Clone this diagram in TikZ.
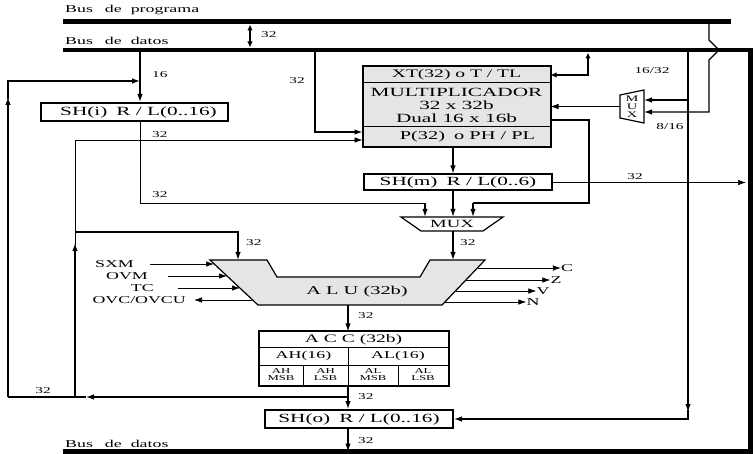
\documentclass[tikz,border=0pt]{standalone}
\usepackage{fontspec}
\setmainfont{Liberation Serif}[FakeStretch=1.7]
\usetikzlibrary{arrows.meta}
\begin{document}
\begin{tikzpicture}[x=1pt,y=-1pt,
  ln/.style={line width=1.2pt},
  tn/.style={line width=0.7pt},
  arr/.style={-{Latex[length=8pt,width=5.5pt]}},
  dbl/.style={{Latex[length=6pt,width=5.5pt]}-{Latex[length=6pt,width=5.5pt]}},
  bus/.style={line width=4.6pt},
  cell/.style={draw, line width=1pt, inner sep=0pt, fill=gray!20},
  box/.style={draw, line width=2pt, inner sep=0pt, fill=white, font=\fontsize{12.5}{12.5}\selectfont},
  lab/.style={font=\fontsize{9}{9}\selectfont, inner sep=0pt},
  sig/.style={font=\fontsize{10.5}{11}\selectfont, inner sep=0pt},
  blab/.style={font=\fontsize{10.5}{10.5}\selectfont, inner sep=0pt, anchor=west},
]
\useasboundingbox (0,0) rectangle (755,454);

% ---------- buses ----------
\coordinate (pbL) at (63,21.5);
\coordinate (pbR) at (731,21.5);
\coordinate (dbL) at (63,50);
\coordinate (dbR) at (750.5,50);
\coordinate (bbR) at (750.5,451.5);
\coordinate (bbL) at (63,451.5);
\draw[bus] (pbL) -- (pbR);
\draw[bus, line join=miter] (dbL) -- (dbR) -- (bbR) -- (bbL);
\node[blab] (lprog) at (65,10) {Bus\hspace{12pt}de\hspace{9pt}programa};
\node[blab] (ldat1) at (65,41) {Bus\hspace{12pt}de\hspace{9pt}datos};
\node[blab] (ldat2) at (65,444) {Bus\hspace{12pt}de\hspace{9pt}datos};
\draw[ln,dbl] (250,24.5) -- (250,47.5);
\node[lab,anchor=west] (l32a) at (261,35) {32};

% ---------- boxes ----------
\node[box, minimum width=187pt, minimum height=18pt] (SHi) at (134.5,112) {\hspace*{8pt}SH(i)\hspace{9pt}R / L(0..16)};

\node[cell, minimum width=187pt, minimum height=16pt, font=\fontsize{11.5}{12}\selectfont] (XT) at (456.5,75) {XT(32) o T / TL};
\node[cell, minimum width=187pt, minimum height=44pt, align=center, font=\fontsize{12.5}{12.5}\selectfont] (MUL) at (456.5,105) {MULTIPLICADOR\\[1pt]32 x 32b\\Dual 16 x 16b};
\node[cell, minimum width=187pt, minimum height=20pt, font=\fontsize{12}{12}\selectfont] (P) at (456.5,137) {\hspace*{22pt}P(32)\hspace{9pt}o PH / PL};
\draw[line width=2pt] (XT.north west) rectangle (P.south east);

\node[box, minimum width=188pt, minimum height=16pt] (SHm) at (458,182.5) {SH(m)\hspace{9pt}R / L(0..6)};
\node[box, minimum width=188pt, minimum height=18pt] (SHo) at (359,419) {SH(o)\hspace{9pt}R / L(0..16)};

% MUX (bottom)
\draw[ln, fill=white] (401,217) -- (503,217) -- (483,231) -- (421,231) -- cycle;
\node[inner sep=0pt, minimum width=100pt, minimum height=14pt, font=\fontsize{11}{11}\selectfont] (mux) at (452,224) {MUX};

% MUX (right, vertical)
\draw[ln, fill=white] (620,95) -- (644,90) -- (644,123) -- (620,118) -- cycle;
\node[inner sep=0pt, minimum width=24pt, minimum height=28pt, align=center, font=\fontsize{8.5}{8}\selectfont] (muxr) at (632,106.5) {M\\U\\X};

% ALU
\draw[ln, fill=gray!20] (210,260) -- (267,260) -- (277,277) -- (420,277) -- (430,260) -- (485,260) -- (442,305) -- (258,305) -- cycle;
\node[inner sep=0pt, font=\fontsize{12}{12}\selectfont] (alu) at (357,292) {A L U (32b)};
\coordinate (aluT) at (453,260);
\coordinate (aluL) at (238,260);
\coordinate (aluB) at (348,305);

% ACC
\node[draw, line width=1pt, inner sep=0pt, minimum width=189pt, minimum height=15pt, font=\fontsize{11.5}{12}\selectfont] (acc) at (353.5,339.5) {A C C (32b)};
\node[draw, line width=1pt, inner sep=0pt, minimum width=89pt, minimum height=18pt, font=\fontsize{10.5}{11}\selectfont] (AH) at (303.5,356) {AH(16)};
\node[draw, line width=1pt, inner sep=0pt, minimum width=100pt, minimum height=18pt, font=\fontsize{10.5}{11}\selectfont] (AL) at (398,356) {AL(16)};
\node[draw, line width=1pt, inner sep=0pt, minimum width=44pt, minimum height=20pt, align=center, font=\fontsize{7.5}{7}\selectfont] (AHM) at (281,375) {AH\\MSB};
\node[draw, line width=1pt, inner sep=0pt, minimum width=45pt, minimum height=20pt, align=center, font=\fontsize{7.5}{7}\selectfont] (AHL) at (325.5,375) {AH\\LSB};
\node[draw, line width=1pt, inner sep=0pt, minimum width=50pt, minimum height=20pt, align=center, font=\fontsize{7.5}{7}\selectfont] (ALM) at (373,375) {AL\\MSB};
\node[draw, line width=1pt, inner sep=0pt, minimum width=50pt, minimum height=20pt, align=center, font=\fontsize{7.5}{7}\selectfont] (ALL) at (423,375) {AL\\LSB};
\draw[line width=2pt] (acc.north west) rectangle (ALL.south east);

% ---------- connectors ----------
% data bus -> SH(i)
\coordinate (b140) at (140,50);
\draw[ln,arr] (b140) -- (b140 |- SHi.north);
\node[lab,anchor=west] (l16) at (152,75) {16};

% SH(i) -> MUX left input
\coordinate (m1) at (425,203);
\draw[tn] (b140 |- SHi.south) |- (m1);
\draw[ln,arr] (m1) -- (m1 |- mux.north);
\node[lab,anchor=west] (l32c) at (152,195) {32};

% data bus -> multiplier (x=315)
\coordinate (b315) at (315,50);
\draw[ln,arr] (b315) |- (MUL.west |- 0,132);
\node[lab] (l32b) at (297,81) {32};

% ACC -> SH(o), feedback branch
\coordinate (br) at (348,397);
\draw[ln,arr] (AHL.south -| br) -- (br |- SHo.north);
\node[lab,anchor=west] (l32f) at (358,397) {32};
\draw[ln,arr] (br) -- (86,397);
\draw[ln] (86,397) -- (8,397);
\draw[ln,arr] (8,397) -- (8,97);
\draw[ln,arr] (8,99) |- (b140 |- 0,81);
\node[lab] (l32g) at (43,391) {32};

% inner loop x=75
\coordinate (c75) at (75,397);
\draw[ln,arr] (c75) -- (75,243);
\draw[tn,arr] (75,245) |- (MUL.west |- 0,140);
\node[lab,anchor=west] (l32d) at (152,135) {32};
\draw[ln,arr] (75,232) -| (aluL);
\node[lab,anchor=west] (l32e) at (246,243) {32};

% SH(o) -> bottom bus
\draw[ln,arr] (SHo.south -| br) -- (br |- bbL);
\node[lab,anchor=west] (l32h) at (358,441) {32};

% XT <-> data bus
\draw[ln,dbl] (XT.east) -| (588,52.5);

% MUX right -> multiplier
\draw[tn,arr] (muxr.west) -- (MUL.east |- muxr.west);

% data bus -> MUX right, and down to SH(o)
\coordinate (b688) at (688,50);
\draw[ln,arr] (b688) |- (644,100);
\draw[ln,arr] (688,100) -- (688,412);
\draw[ln,arr] (688,410) |- (SHo.east);
\node[lab] (l1632) at (652,71) {16/32};
\node[lab] (l816) at (670,127) {8/16};

% program bus -> MUX right (bridge)
\coordinate (p709) at (709,21.5);
\draw[ln,arr] (p709) -- (709,40) -- (719,50) -- (709,60) |- (644,112);

% multiplier -> SH(m) -> MUX
\draw[ln,arr] (P.south -| 453,0) -- (SHm.north -| 453,0);
\draw[ln,arr] (SHm.south -| 453,0) -- (mux.north -| 453,0);
\coordinate (m3) at (473,203);
\draw[ln] (MUL.east |- 0,120) -| (589,203) -- (m3);
\draw[ln,arr] (m3) -- (m3 |- mux.north);

% SH(m) -> right
\draw[tn,arr] (SHm.east) -- (746,182.5);
\node[lab] (l32i) at (635,177) {32};

% MUX -> ALU -> ACC
\draw[ln,arr] (mux.south -| aluT) -- (aluT);
\node[lab,anchor=west] (l32j) at (460,243) {32};
\draw[ln,arr] (aluB) -- (aluB |- acc.north);
\node[lab,anchor=west] (l32k) at (358,316) {32};

% ALU flag inputs / outputs
\node[sig,anchor=east] (sxm) at (134,264) {SXM};
\node[sig,anchor=east] (ovm) at (148,276) {OVM};
\node[sig,anchor=east] (tc) at (154,288) {TC};
\node[sig,anchor=east] (ovc) at (186,300) {OVC/OVCU};
\draw[tn,arr] ([xshift=16pt]sxm.east) -- (214,264);
\draw[tn,arr] ([xshift=20pt]ovm.east) -- (227,276);
\draw[tn,arr] ([xshift=24pt]tc.east) -- (240,288);
\draw[tn,arr] (252,300) -- ([xshift=8pt]ovc.east);

\node[sig] (fc) at (567,268) {C};
\node[sig] (fz) at (556,280) {Z};
\node[sig] (fv) at (543,291) {V};
\node[sig] (fn) at (533,302) {N};
\draw[tn,arr] (478,268) -- (fc.west);
\draw[tn,arr] (466,280) -- (fz.west);
\draw[tn,arr] (456,291) -- (fv.west);
\draw[tn,arr] (445,302) -- (fn.west);
\end{tikzpicture}
\end{document}
